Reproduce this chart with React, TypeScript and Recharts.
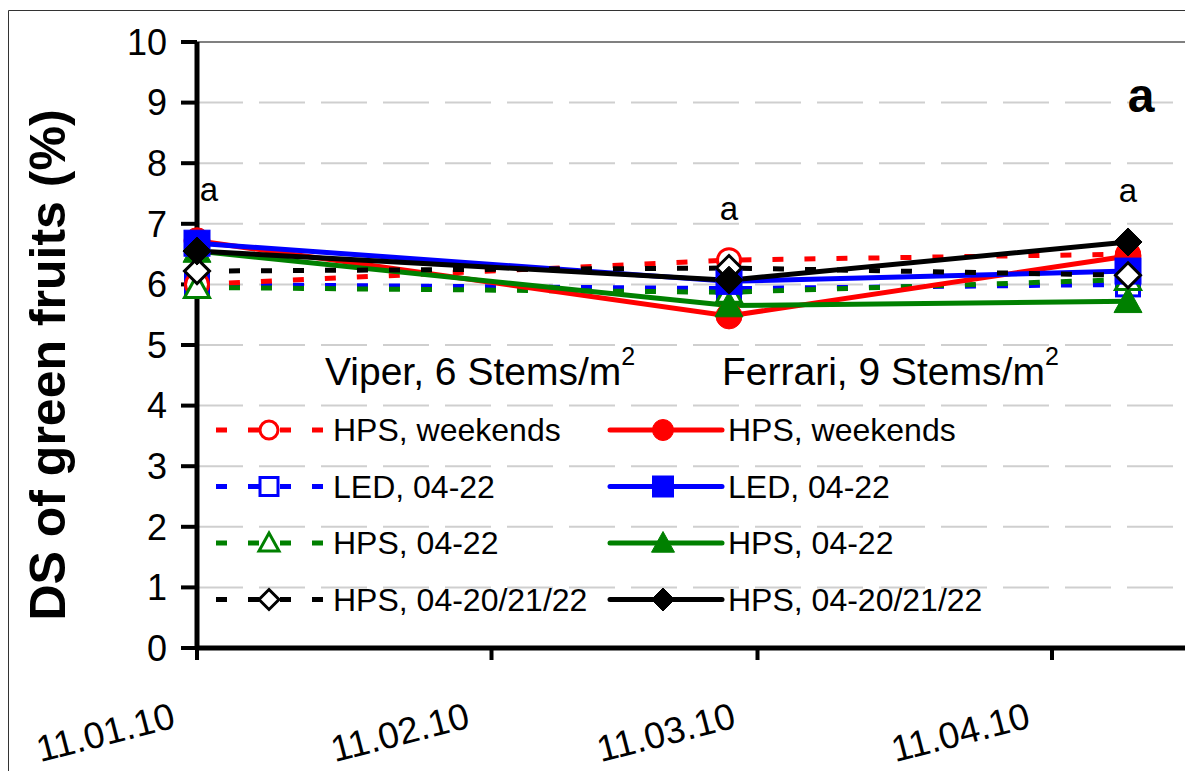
import React from "react";
import {
  LineChart,
  Line,
  XAxis,
  YAxis,
  CartesianGrid,
  ReferenceLine,
  ReferenceDot,
  Legend,
} from "recharts";

// sampling dates and axis ticks (dd.mm.yy on the axis)
const sampleDates = ["2010-01-11", "2010-03-08", "2010-04-19"];
const tickDates = ["2010-01-11", "2010-02-11", "2010-03-11", "2010-04-11"];
const axisStart = "2010-01-11";
const axisEnd = "2010-04-25";

// Viper, 6 stems/m2 (dashed, open markers)
const viperWeekends = [6.0, 6.4, 6.5];
const viperLed = [6.0, 5.93, 6.0];
const viperHps = [5.95, 5.87, 6.08];
const viperHpsMulti = [6.22, 6.27, 6.15];

// Ferrari, 9 stems/m2 (solid, filled markers)
const ferrariWeekends = [6.72, 5.48, 6.47];
const ferrariLed = [6.68, 6.05, 6.22];
const ferrariHps = [6.55, 5.65, 5.72];
const ferrariHpsMulti = [6.55, 6.07, 6.7];

const groupLetters = ["a", "a", "a"];
const treatments = ["HPS, weekends", "LED, 04-22", "HPS, 04-22", "HPS, 04-20/21/22"];
const cultivars = ["Viper, 6 Stems/m", "Ferrari, 9 Stems/m"];
const yTicks = [0, 1, 2, 3, 4, 5, 6, 7, 8, 9, 10];
const panelLetter = "a";

const FONT = "'Liberation Sans', Arial, sans-serif";
const toTime = (d: string) => Date.parse(d);
const pad = (n: number) => String(n).padStart(2, "0");
const fmtDate = (t: number) => {
  const d = new Date(t);
  return `${pad(d.getUTCDate())}.${pad(d.getUTCMonth() + 1)}.${pad(d.getUTCFullYear() % 100)}`;
};

type Shape = "circle" | "square" | "triangle" | "diamond";
const treatmentStyle: { color: string; shape: Shape }[] = [
  { color: "#ff0000", shape: "circle" },
  { color: "#0000ff", shape: "square" },
  { color: "#008000", shape: "triangle" },
  { color: "#000000", shape: "diamond" },
];

// drawing order: later entries sit on top
const series = [
  { key: "vL", values: viperLed, t: 1, open: true },
  { key: "vW", values: viperWeekends, t: 0, open: true },
  { key: "vH", values: viperHps, t: 2, open: true },
  { key: "fW", values: ferrariWeekends, t: 0, open: false },
  { key: "fH", values: ferrariHps, t: 2, open: false },
  { key: "fL", values: ferrariLed, t: 1, open: false },
  { key: "vM", values: viperHpsMulti, t: 3, open: true },
  { key: "fM", values: ferrariHpsMulti, t: 3, open: false },
];

const data = sampleDates.map((d, i) => {
  const row: Record<string, number> = { t: toTime(d) };
  series.forEach((s) => (row[s.key] = s.values[i]));
  return row;
});
const peaks = sampleDates.map((_, i) => Math.max(...series.map((s) => s.values[i])));

function Marker({ cx, cy, shape, color, open, size }: any) {
  const h = size / 2;
  const fill = open ? "#fff" : color;
  const sw = open ? 3 : 1;
  const inner = open ? h - 1.5 : h;
  switch (shape as Shape) {
    case "circle":
      return <circle cx={cx} cy={cy} r={inner - 1} fill={fill} stroke={color} strokeWidth={sw} />;
    case "square":
      return (
        <rect x={cx - inner + 1} y={cy - inner + 1} width={2 * inner - 2} height={2 * inner - 2}
          fill={fill} stroke={color} strokeWidth={sw} />
      );
    case "triangle":
      return (
        <polygon
          points={`${cx},${cy - inner} ${cx + inner},${cy + inner * 0.8} ${cx - inner},${cy + inner * 0.8}`}
          fill={fill} stroke={color} strokeWidth={sw} strokeLinejoin="miter" />
      );
    default:
      return (
        <polygon
          points={`${cx},${cy - inner} ${cx + inner},${cy} ${cx},${cy + inner} ${cx - inner},${cy}`}
          fill={fill} stroke={color} strokeWidth={sw} />
      );
  }
}

function DateTick({ x, y, payload }: any) {
  return (
    <text
      transform={`translate(${x - 20},${y + 65}) rotate(-14.5)`}
      textAnchor="end"
      fontSize={37}
      fontFamily={FONT}
      fill="#000"
    >
      {fmtDate(payload.value)}
    </text>
  );
}

function YTitle({ viewBox }: any) {
  const cx = viewBox.x + 48;
  const cy = viewBox.y + viewBox.height / 2 + 20;
  return (
    <text
      transform={`translate(${cx},${cy}) rotate(-90)`}
      textAnchor="middle"
      dominantBaseline="central"
      fontSize={50}
      fontWeight="bold"
      fontFamily={FONT}
      fill="#000"
    >
      DS of green fruits (%)
    </text>
  );
}

function GroupLabel({ viewBox, value, shift }: any) {
  return (
    <text x={viewBox.x + shift} y={viewBox.y - 40} textAnchor="middle" fontSize={33} fontFamily={FONT} fill="#000">
      {value}
    </text>
  );
}

function LegendPanel() {
  const rowY = (i: number) => 430 + i * 56.5;
  return (
    <svg width={1185} height={771} style={{ position: "absolute", left: 0, top: 0 }}>
      <path d="M8.5 771 V10.5 H1185" fill="none" stroke="#333" strokeWidth={1} />
      <text x={1141} y={112} textAnchor="middle" fontSize={48} fontWeight="bold" fontFamily={FONT}>
        {panelLetter}
      </text>
      {cultivars.map((c, ci) => (
        <text key={c} x={ci === 0 ? 325 : 722} y={385} fontSize={39} fontFamily={FONT} fill="#000">
          {c}
          <tspan dy={-20} fontSize={25}>2</tspan>
        </text>
      ))}
      {treatments.map((name, i) => {
        const st = treatmentStyle[i];
        const y = rowY(i);
        return (
          <g key={name}>
            <line x1={216} x2={323} y1={y} y2={y} stroke={st.color} strokeWidth={5} strokeDasharray="11 21" />
            <Marker cx={269} cy={y} shape={st.shape} color={st.color} open size={23} />
            <text x={333} y={y + 11} fontSize={32} fontFamily={FONT} fill="#000">{name}</text>
            <line x1={610} x2={722} y1={y} y2={y} stroke={st.color} strokeWidth={5} strokeLinecap="round" />
            <Marker cx={663} cy={y} shape={st.shape} color={st.color} open={false} size={23} />
            <text x={728} y={y + 11} fontSize={32} fontFamily={FONT} fill="#000">{name}</text>
          </g>
        );
      })}
    </svg>
  );
}

export default function App() {
  return (
    <div style={{ position: "absolute", left: 0, top: 0, width: 1185, height: 771, background: "#fff", overflow: "hidden" }}>
      <LineChart width={1185} height={771} data={data} margin={{ top: 42, right: 0, bottom: 0, left: 0 }}>
        <CartesianGrid vertical={false} stroke="#cfcfcf" strokeWidth={2} strokeDasharray="46 16" />
        <ReferenceLine y={10} stroke="#808080" strokeWidth={2} />
        <XAxis
          dataKey="t"
          type="number"
          scale="time"
          domain={[toTime(axisStart), toTime(axisEnd)]}
          ticks={tickDates.map(toTime)}
          tick={<DateTick />}
          height={123}
          tickSize={12}
          axisLine={{ stroke: "#000", strokeWidth: 5 }}
          tickLine={{ stroke: "#000", strokeWidth: 4 }}
          interval={0}
        />
        <YAxis
          domain={[0, 10]}
          ticks={yTicks}
          width={197}
          tickSize={16}
          tickMargin={14}
          axisLine={{ stroke: "#000", strokeWidth: 5 }}
          tickLine={{ stroke: "#000", strokeWidth: 4 }}
          tick={{ fontSize: 36, fontFamily: FONT, fill: "#000" }}
          interval={0}
          label={<YTitle />}
        />
        {series.map((s) => {
          const st = treatmentStyle[s.t];
          return (
            <Line
              key={s.key}
              dataKey={s.key}
              type="linear"
              stroke={st.color}
              strokeWidth={5}
              strokeDasharray={s.open ? "11 21" : undefined}
              isAnimationActive={false}
              activeDot={false}
              legendType="none"
              dot={(p: any) => (
                <Marker key={`${s.key}-${p.index}`} cx={p.cx} cy={p.cy} shape={st.shape}
                  color={st.color} open={s.open} size={28} />
              )}
            />
          );
        })}
        {sampleDates.map((d, i) => (
          <ReferenceDot
            key={d}
            x={toTime(d)}
            y={peaks[i]}
            r={0}
            stroke="none"
            fill="none"
            label={<GroupLabel value={groupLetters[i]} shift={i === 0 ? 12 : 0} />}
          />
        ))}
        <Legend
          layout="horizontal"
          verticalAlign="middle"
          align="center"
          content={() => <LegendPanel />}
          wrapperStyle={{ position: "absolute", left: 0, top: 0, width: 1185, height: 771, pointerEvents: "none" }}
        />
      </LineChart>
    </div>
  );
}
